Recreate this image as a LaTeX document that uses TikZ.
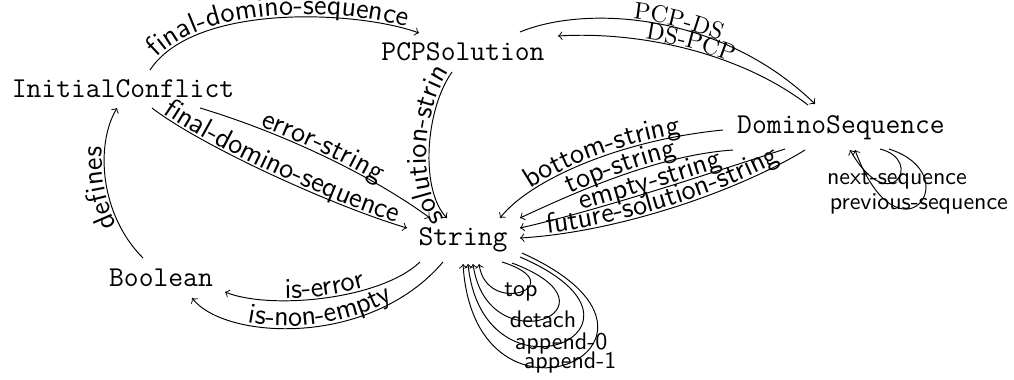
\documentclass[tikz,border=0pt]{standalone}
\usetikzlibrary{calc,decorations.text}
\tikzset{
  cls/.style={font=\large\ttfamily, inner sep=0pt, anchor=base},
  conn/.style={draw, line width=0.4pt},
  lbl/.style={postaction={decorate}, decoration={text along path, text align=center, raise=1pt, text={|\large\sffamily|#1}}},
  lblr/.style={postaction={decorate}, decoration={text along path, text align=center, raise=0.5pt, text={|\rmfamily|#1}}},
  looplbl/.style={font=\sffamily, inner sep=0pt},
}
\begin{document}
\begin{tikzpicture}[x=0.014646cm, y=-0.014646cm, >=to]
\useasboundingbox (0,0) rectangle (1014,379);
\node[cls] (IC) at (123,97) {InitialConflict};
\node[cls] (PCP) at (463,60) {PCPSolution};
\node[cls] (DS) at (841,133) {DominoSequence};
\node[cls] (Str) at (463,245) {String};
\node[cls] (Bool) at (161,286) {Boolean};

% InitialConflict -> PCPSolution
\draw[conn,->,lbl={final-domino-sequence}] ($(IC.base)+(27,-27)$) .. controls +(45,-68) and +(-60,-22) .. ($(PCP.base)+(-44,-27)$);
% InitialConflict -> String
\draw[conn,->,lbl={error-string}] ($(IC.base)+(77,11)$) .. controls +(80,24) and +(-60,-44) .. ($(Str.base)+(-33,-27)$);
\draw[conn,->,lbl={final-domino-sequence}] ($(IC.base)+(29,11)$) .. controls +(48,37) and +(-77,-23) .. ($(Str.base)+(-56,-17)$);
% Boolean -> InitialConflict
\draw[conn,->,lbl={defines}] ($(Bool.base)+(-18,-28)$) .. controls +(-43,-43) and +(-22,37) .. ($(IC.base)+(-6,11)$);
% PCPSolution -> String
\draw[conn,<-,lbl={solution-strin}] ($(Str.base)+(-16,-27)$) .. controls +(-27,-28) and +(-27,38) .. ($(PCP.base)+(-11,12)$);
% PCPSolution <-> DominoSequence
\draw[conn,->,lblr={PCP-DS}] ($(PCP.base)+(57,-28)$) .. controls +(65,-27) and +(-95,-92) .. ($(DS.base)+(-26,-29)$);
\draw[conn,<-,lblr={DS-PCP}] ($(PCP.base)+(95,-24)$) .. controls +(82,-5) and +(-68,-52) .. ($(DS.base)+(-33,-28)$);
% DominoSequence -> String
\draw[conn,<-,lbl={bottom-string}] ($(Str.base)+(37,-27)$) .. controls +(30,-38) and +(-103,10) .. ($(DS.base)+(-118,-3)$);
\draw[conn,<-,lbl={top-string}] ($(Str.base)+(57,-27)$) .. controls +(60,-28) and +(-73,5) .. ($(DS.base)+(-108,17)$);
\draw[conn,<-,lbl={empty-string}] ($(Str.base)+(57,-17)$) .. controls +(80,-18) and +(-65,21) .. ($(DS.base)+(-56,16)$);
\draw[conn,<-,lbl={future-solution-string}] ($(Str.base)+(57,-7)$) .. controls +(100,-6) and +(-65,40) .. ($(DS.base)+(-36,17)$);
% DominoSequence loops
\draw[conn,->] ($(DS.base)+(39,16)$) .. controls +(45,11) and +(40,70) .. node[looplbl,pos=0.5] {next-sequence} ($(DS.base)+(9,17)$);
\draw[conn,->] ($(DS.base)+(48,16)$) .. controls +(81,26) and +(44,119) .. node[looplbl,pos=0.5] {previous-sequence} ($(DS.base)+(14,17)$);
% String -> Boolean
\draw[conn,<-,lbl={is-error}] ($(Bool.base)+(64,6)$) .. controls +(45,18) and +(-40,38) .. ($(Str.base)+(-43,17)$);
\draw[conn,<-,lbl={is-non-empty}] ($(Bool.base)+(31,12)$) .. controls +(33,42) and +(-73,86) .. ($(Str.base)+(-20,17)$);
% String loops
\draw[conn,->] ($(Str.base)+(39,17)$) .. controls +(73,23) and +(8,54) .. node[looplbl,pos=0.5] {top} ($(Str.base)+(16,19)$);
\draw[conn,->] ($(Str.base)+(49,18)$) .. controls +(120,45) and +(15,103) .. node[looplbl,pos=0.5] {detach} ($(Str.base)+(10,19)$);
\draw[conn,->] ($(Str.base)+(57,12)$) .. controls +(163,70) and +(16,150) .. node[looplbl,pos=0.5] {append-0} ($(Str.base)+(5,19)$);
\draw[conn,->] ($(Str.base)+(59,8)$) .. controls +(195,88) and +(12,190) .. node[looplbl,pos=0.5] {append-1} ($(Str.base)+(0,19)$);
\end{tikzpicture}
\end{document}
